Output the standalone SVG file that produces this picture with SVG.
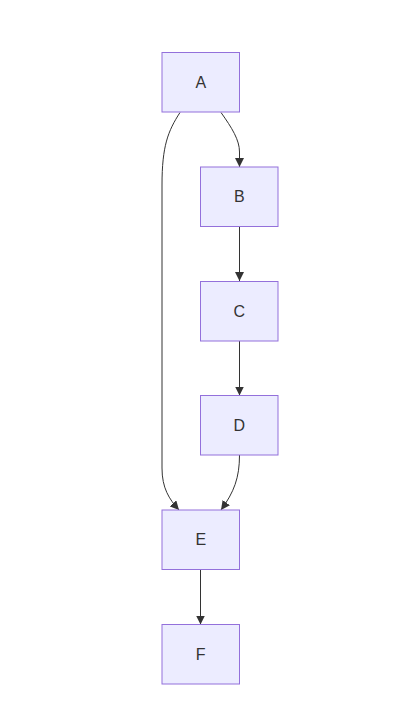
<svg xmlns="http://www.w3.org/2000/svg" width="405" height="723" viewBox="0 0 405 723">
<style>
.node rect{fill:#ECECFF;stroke:#9370DB;stroke-width:1}
.node text{font-family:"Liberation Sans",Arial,sans-serif;font-size:16px;fill:#333333;text-anchor:middle;dominant-baseline:central}
.edges path{fill:none;stroke:#333333;stroke-width:1}
</style>
<defs>
<marker id="arrow" viewBox="0 0 10 10" refX="10" refY="5" markerUnits="userSpaceOnUse" markerWidth="9" markerHeight="9" orient="auto">
<path d="M0,0 L10,5 L0,10 z" fill="#333333"/>
</marker>
</defs>
<rect width="405" height="723" fill="#ffffff"/>
<g class="edges">
<path d="M180,112.5 C168,131 162,146 162,185 L162,468 C162,488 169,499 179,510" marker-end="url(#arrow)"/>
<path d="M221,112.5 C232,128 239.5,140 239.5,152 L239.5,167" marker-end="url(#arrow)"/>
<path d="M239.5,226.5 L239.5,281" marker-end="url(#arrow)"/>
<path d="M239.5,341 L239.5,395.5" marker-end="url(#arrow)"/>
<path d="M239.5,455 C239.5,478 234,492 221,510" marker-end="url(#arrow)"/>
<path d="M200.5,569.5 L200.5,624.5" marker-end="url(#arrow)"/>
</g>
<g id="A" class="node"><rect x="162" y="52.5" width="77.5" height="59.5"/><text x="200.75" y="82.25">A</text></g>
<g id="B" class="node"><rect x="200.5" y="167" width="77.5" height="59.5"/><text x="239.25" y="196.75">B</text></g>
<g id="C" class="node"><rect x="200.5" y="281.5" width="77.5" height="59.5"/><text x="239.25" y="311.25">C</text></g>
<g id="D" class="node"><rect x="200.5" y="395.5" width="77.5" height="59.5"/><text x="239.25" y="425.25">D</text></g>
<g id="E" class="node"><rect x="162" y="510" width="77.5" height="59.5"/><text x="200.75" y="539.75">E</text></g>
<g id="F" class="node"><rect x="162" y="624.5" width="77.5" height="59.5"/><text x="200.75" y="654.25">F</text></g>
</svg>
